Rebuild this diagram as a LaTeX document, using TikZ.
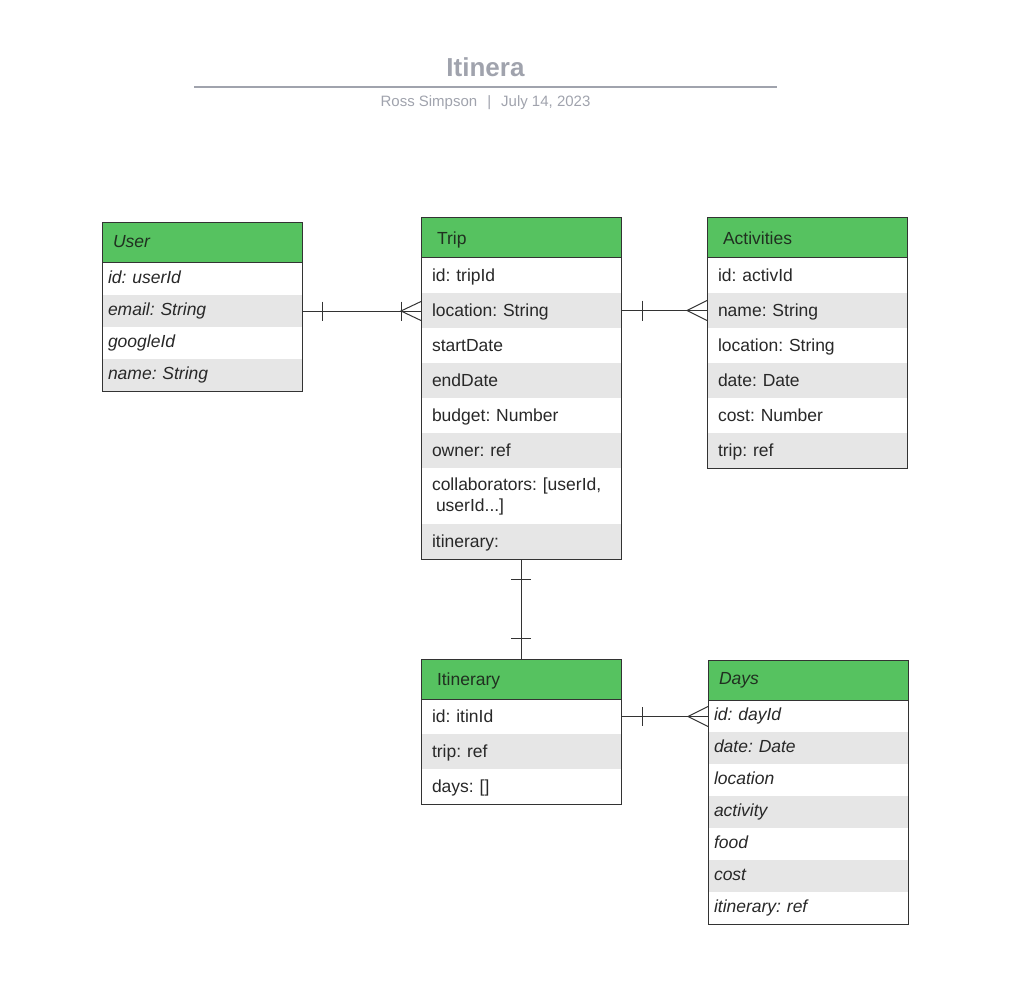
\documentclass[tikz,border=0pt]{standalone}
\usepackage{fontspec}
\setmainfont{Liberation Sans}
\usetikzlibrary{positioning,calc}
\definecolor{hdr}{RGB}{86,194,96}
\definecolor{rowgray}{RGB}{230,230,230}
\definecolor{edge}{RGB}{51,51,51}
\definecolor{ttl}{RGB}{160,163,173}
\definecolor{txt}{RGB}{40,40,40}
\definecolor{hdrtxt}{RGB}{32,48,32}
\begin{document}
\frenchspacing
\begin{tikzpicture}[x=1pt,y=-1pt,
  base/.style={rectangle, anchor=north west, inner ysep=0pt, outer sep=0pt,
    minimum width=200pt, align=left, text=txt},
  sl/.style={text height=16pt, text depth=3.5pt},
  slb/.style={text height=13pt, text depth=4.5pt},
  rfont/.style={font=\fontsize{17.5}{21}\selectfont\frenchspacing},
  ifont/.style={font=\fontsize{17.5}{21}\selectfont\itshape\frenchspacing},
  rowA/.style={base, rfont, inner xsep=11pt, text width=178pt},
  rowB/.style={base, ifont, inner xsep=6pt, text width=188pt},
  hdrA/.style={base, sl, rfont, fill=hdr, minimum height=40pt, inner xsep=16pt, text width=168pt, text=hdrtxt},
  hdrB/.style={base, slb, ifont, fill=hdr, minimum height=40pt, inner xsep=11pt, text width=178pt, text=hdrtxt},
  gr/.style={fill=rowgray},
  h32/.style={slb, minimum height=32pt},
  h35/.style={sl, minimum height=35pt},
  frame/.style={draw=edge, line width=1pt},
  conn/.style={draw=edge, line width=1pt}
]
\useasboundingbox (0,0) rectangle (1023,1003);

% title
\node[anchor=base, font=\fontsize{26}{30}\selectfont\bfseries, text=ttl] (title) at (485.5,77) {Itinera};
\node[anchor=base, font=\fontsize{15}{18}\selectfont, text=ttl] (sub) at (485.5,107) {Ross Simpson\hspace{10pt}|\hspace{10pt}July 14, 2023};
\coordinate (tl) at (194,87);
\coordinate (tr) at (777,87);
\draw[ttl, line width=2pt] (tl) -- (tr);

% User
\node[hdrB] (user-h) at (102,223) {User};
\node[rowB,h32,below=0pt of user-h] (user-1) {id: userId};
\node[rowB,h32,gr,below=0pt of user-1] (user-2) {email: String};
\node[rowB,h32,below=0pt of user-2] (user-3) {googleId};
\node[rowB,h32,gr,below=0pt of user-3] (user-4) {name: String};
\draw[frame] (user-h.north west) rectangle (user-4.south east);
\draw[frame] (user-h.south west) -- (user-h.south east);

% Trip
\node[hdrA] (trip-h) at (421,218) {Trip};
\node[rowA,h35,below=0pt of trip-h] (trip-1) {id: tripId};
\node[rowA,h35,gr,below=0pt of trip-1] (trip-2) {location: String};
\node[rowA,h35,below=0pt of trip-2] (trip-3) {startDate};
\node[rowA,h35,gr,below=0pt of trip-3] (trip-4) {endDate};
\node[rowA,h35,below=0pt of trip-4] (trip-5) {budget: Number};
\node[rowA,h35,gr,below=0pt of trip-5] (trip-6) {owner: ref};
\node[rowA,minimum height=56pt,below=0pt of trip-6] (trip-7) {collaborators: [userId,\\\hspace{4pt}userId...]};
\node[rowA,h35,gr,below=0pt of trip-7] (trip-8) {itinerary:};
\draw[frame] (trip-h.north west) rectangle (trip-8.south east);
\draw[frame] (trip-h.south west) -- (trip-h.south east);

% Activities
\node[hdrA] (act-h) at (707,218) {Activities};
\node[rowA,h35,below=0pt of act-h] (act-1) {id: activId};
\node[rowA,h35,gr,below=0pt of act-1] (act-2) {name: String};
\node[rowA,h35,below=0pt of act-2] (act-3) {location: String};
\node[rowA,h35,gr,below=0pt of act-3] (act-4) {date: Date};
\node[rowA,h35,below=0pt of act-4] (act-5) {cost: Number};
\node[rowA,h35,gr,below=0pt of act-5] (act-6) {trip: ref};
\draw[frame] (act-h.north west) rectangle (act-6.south east);
\draw[frame] (act-h.south west) -- (act-h.south east);

% Itinerary
\node[hdrA] (itin-h) at (421,659) {Itinerary};
\node[rowA,h35,below=0pt of itin-h] (itin-1) {id: itinId};
\node[rowA,h35,gr,below=0pt of itin-1] (itin-2) {trip: ref};
\node[rowA,h35,below=0pt of itin-2] (itin-3) {days: []};
\draw[frame] (itin-h.north west) rectangle (itin-3.south east);
\draw[frame] (itin-h.south west) -- (itin-h.south east);

% Days
\node[hdrB] (days-h) at (708,660) {Days};
\node[rowB,h32,below=0pt of days-h] (days-1) {id: dayId};
\node[rowB,h32,gr,below=0pt of days-1] (days-2) {date: Date};
\node[rowB,h32,below=0pt of days-2] (days-3) {location};
\node[rowB,h32,gr,below=0pt of days-3] (days-4) {activity};
\node[rowB,h32,below=0pt of days-4] (days-5) {food};
\node[rowB,h32,gr,below=0pt of days-5] (days-6) {cost};
\node[rowB,h32,below=0pt of days-6] (days-7) {itinerary: ref};
\draw[frame] (days-h.north west) rectangle (days-7.south east);
\draw[frame] (days-h.south west) -- (days-h.south east);

% User -- Trip
\coordinate (tj) at (user-2.east -| trip-2.west);
\draw[conn] (user-2.east) -- (tj);
\draw[conn] ($(user-2.east)+(20,-9.5)$) -- ($(user-2.east)+(20,9.5)$);
\draw[conn] ($(tj)+(-20,-9.5)$) -- ($(tj)+(-20,9.5)$);
\draw[conn] ($(tj)+(0,-9.5)$) -- ($(tj)+(-20,0)$) -- ($(tj)+(0,9.5)$);

% Trip -- Activities
\draw[conn] (trip-2.east) -- (act-2.west);
\draw[conn] ($(trip-2.east)+(21,-10)$) -- ($(trip-2.east)+(21,10)$);
\draw[conn] ($(act-2.west)+(0,-10)$) -- ($(act-2.west)+(-20,0)$) -- ($(act-2.west)+(0,10)$);

% Trip -- Itinerary
\draw[conn] (trip-8.south) -- (itin-h.north);
\draw[conn] ($(trip-8.south)+(-10,20)$) -- ($(trip-8.south)+(10,20)$);
\draw[conn] ($(itin-h.north)+(-10,-21)$) -- ($(itin-h.north)+(10,-21)$);

% Itinerary -- Days
\coordinate (dj) at (itin-1.east -| days-1.west);
\draw[conn] (itin-1.east) -- (dj);
\draw[conn] ($(itin-1.east)+(21,-9.5)$) -- ($(itin-1.east)+(21,9.5)$);
\draw[conn] ($(dj)+(0,-10)$) -- ($(dj)+(-20,0)$) -- ($(dj)+(0,10)$);
\end{tikzpicture}
\end{document}
